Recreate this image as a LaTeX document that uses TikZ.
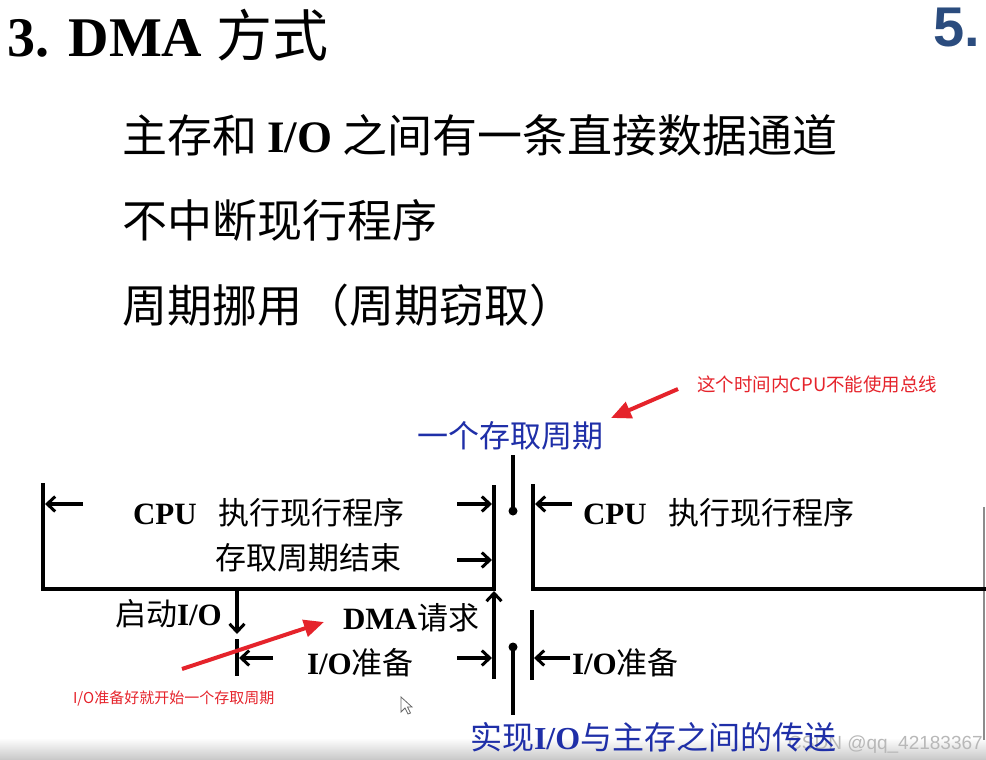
\documentclass[tikz,border=0pt]{standalone}
\usepackage{fontspec}
\setmainfont{Liberation Serif}
\newfontfamily\cjk{Noto Sans CJK SC}
\newfontfamily\sansf{Liberation Sans}
\usetikzlibrary{arrows.meta}
\definecolor{slideblue}{HTML}{1F2FA8}
\definecolor{notered}{HTML}{E5232B}
\definecolor{numblue}{HTML}{2B4C7E}
\newcommand\lat[1]{{\rmfamily\bfseries #1}}
\newcommand\fs[1]{\fontsize{#1}{#1}\selectfont}
\tikzset{
  txt/.style={anchor=base west,inner sep=0pt,outer sep=0pt},
  ln/.style={line width=4pt,line join=miter},
  arr/.style={line width=3.6pt,-{Straight Barb[length=8pt,width=15pt,line width=3pt]}},
  redarr/.style={notered,line width=4pt,-{Triangle[length=20pt,width=17pt]}},
}
\begin{document}
\begin{tikzpicture}[x=1pt,y=-1pt]
\useasboundingbox (0,0) rectangle (986,760);
% bottom band
\shade[top color=white,bottom color=black!22] (0,738) rectangle (986,760);
% titles
\node[txt] (title) at (8,57) {\fs{56}\bfseries 3. DMA {\cjk\mdseries 方式}};
\node[txt,numblue] (five) at (933,47) {\fs{56}\sansf\bfseries 5.};
\node[txt] (l1) at (122,152) {\fs{45}\cjk 主存和 \lat{I/O} 之间有一条直接数据通道};
\node[txt] (l2) at (122,237) {\fs{45}\cjk 不中断现行程序};
\node[txt] (l3) at (122,322) {\fs{45}\cjk 周期挪用\hspace{3pt}（周期窃取）};
% notes
\node[txt,notered] (note1) at (697,391) {\fs{18.5}\cjk 这个时间内CPU不能使用总线};
\node[txt,slideblue] (cycle) at (417,447) {\fs{31}\cjk 一个存取周期};
% coordinates
\coordinate (L1top) at (43,483);
\coordinate (L1bot) at (43,589);
\coordinate (R1bot) at (494,589);
\coordinate (R1top) at (494,485);
\coordinate (D1top) at (513,455);
\coordinate (D1) at (513,511);
\coordinate (L2top) at (533,484);
\coordinate (L2bot) at (533,589);
\coordinate (R2bot) at (986,589);
\coordinate (edgeTop) at (984,507);
\coordinate (edgeBot) at (984,740);
\coordinate (a1s) at (83,504);   \coordinate (a1e) at (45,504);
\coordinate (a2s) at (457,504);  \coordinate (a2e) at (492,504);
\coordinate (a3s) at (457,560);  \coordinate (a3e) at (492,560);
\coordinate (a4s) at (572,504);  \coordinate (a4e) at (535,504);
\coordinate (qs) at (237,589);   \coordinate (qe) at (237,634);
\coordinate (t1) at (237,639);   \coordinate (t2) at (237,676);
\coordinate (a5s) at (273,658);  \coordinate (a5e) at (239,658);
\coordinate (a6s) at (457,658);  \coordinate (a6e) at (492,658);
\coordinate (us) at (494,679);   \coordinate (ue) at (494,591);
\coordinate (D2) at (513,647);   \coordinate (D2bot) at (513,715);
\coordinate (v3a) at (532,610);  \coordinate (v3b) at (532,680);
\coordinate (a7s) at (570,658);  \coordinate (a7e) at (534,658);
\coordinate (r1s) at (678,389);  \coordinate (r1e) at (611,418);
\coordinate (r2s) at (182,669);  \coordinate (r2e) at (324,622);
% edge of slide
\draw[black!45,line width=2pt] (edgeTop) -- (edgeBot);
% brackets
\draw[ln] (L1top) -- (L1bot) -- (R1bot) -- (R1top);
\draw[ln] (L2top) -- (L2bot) -- (R2bot);
\draw[ln] (D1top) -- (D1);
\fill (D1) circle (4.5pt);
\draw[ln] (t1) -- (t2);
\draw[ln] (D2) -- (D2bot);
\fill (D2) circle (4.5pt);
\draw[ln] (v3a) -- (v3b);
% arrows
\draw[arr] (a1s) -- (a1e);
\draw[arr] (a2s) -- (a2e);
\draw[arr] (a3s) -- (a3e);
\draw[arr] (a4s) -- (a4e);
\draw[arr] (qs) -- (qe);
\draw[arr] (a5s) -- (a5e);
\draw[arr] (a6s) -- (a6e);
\draw[arr] (us) -- (ue);
\draw[arr] (a7s) -- (a7e);
% diagram labels
\node[txt] (cpu1) at (133,524) {\fs{31}\lat{CPU}\hspace{22pt}{\cjk 执行现行程序}};
\node[txt] (end) at (215,569) {\fs{31}\cjk 存取周期结束};
\node[txt] (cpu2) at (583,524) {\fs{31}\lat{CPU}\hspace{22pt}{\cjk 执行现行程序}};
\node[txt] (start) at (115,625) {\fs{31}{\cjk 启动}\lat{I/O}};
\node[txt] (dma) at (343,629) {\fs{31}\lat{DMA}{\cjk 请求}};
\node[txt] (prep1) at (307,674) {\fs{31}\lat{I/O}{\cjk 准备}};
\node[txt] (prep2) at (572,674) {\fs{31}\lat{I/O}{\cjk 准备}};
% watermark and bottom text
\node[anchor=base east,inner sep=0pt,black!28] (wm) at (983,749) {\fs{19}\sansf CSDN @qq\_42183367};
\node[txt,slideblue] (transfer) at (470,749) {\fs{32}{\cjk 实现}\lat{I/O}{\cjk 与主存之间的传送}};
% red note 2
\node[txt,notered] (note2) at (73,703) {\fs{15}\cjk I/O准备好就开始一个存取周期};
\draw[redarr] (r1s) -- (r1e);
\draw[redarr] (r2s) -- (r2e);
% cursor
\draw[black!60,fill=white,line width=0.8pt] (401,697) -- (401,712) -- (405,708) -- (408,714) -- (410.5,713) -- (407.5,707) -- (412,707) -- cycle;
\end{tikzpicture}
\end{document}
